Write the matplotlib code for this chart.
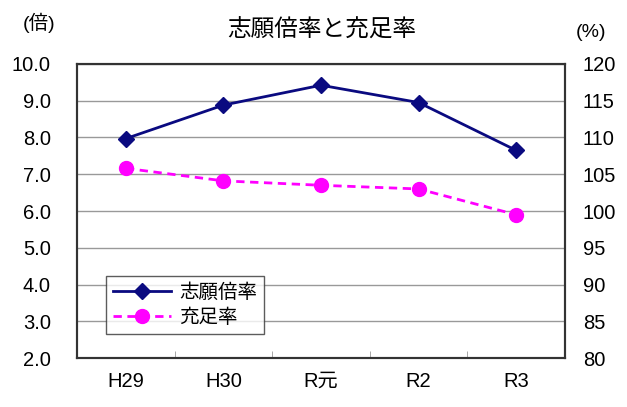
import numpy as np
import matplotlib.pyplot as plt

plt.rcParams['font.family'] = ['Liberation Sans', 'Noto Sans CJK JP']

years = ['H29', 'H30', 'R元', 'R2', 'R3']
shigan = [7.97, 8.88, 9.42, 8.95, 7.65]      # 志願倍率 (倍)
juusoku = [105.8, 104.1, 103.5, 103.0, 99.5]  # 充足率 (%)

fig = plt.figure(figsize=(6.27, 4.07), dpi=100)
ax = fig.add_axes([0.123, 0.12, 0.778, 0.723])
ax2 = ax.twinx()

x = np.arange(len(years))
l1, = ax.plot(x, shigan, color='#0a0a80', lw=2, marker='D', ms=8, label='志願倍率', zorder=3)
l2, = ax2.plot(x, juusoku, color='#ff00ff', lw=2, ls=(0, (3, 2)), marker='o', ms=10,
               markeredgecolor='#ff00ff', label='充足率', zorder=3)

ax.set_xlim(-0.5, len(years) - 0.5)
ax.set_ylim(2, 10)
ax.set_yticks(np.arange(2, 10.1, 1))
ax.set_yticklabels([f'{v:.1f}' for v in np.arange(2, 10.1, 1)])
ax2.set_ylim(80, 120)
ax2.set_yticks(np.arange(80, 121, 5))

ax.set_xticks(x)
ax.set_xticklabels(years)
ax.set_xticks(np.arange(0.5, len(years) - 1, 1), minor=True)
ax.tick_params(axis='x', which='major', length=0, pad=10, labelsize=14.5)
ax.tick_params(axis='x', which='minor', direction='in', length=5, color='#999999')
ax.tick_params(axis='y', length=0, pad=19, labelsize=14.5)
ax2.tick_params(axis='y', length=0, pad=13, labelsize=14.5)

ax.grid(axis='y', color='#999999', lw=1)
for a in (ax, ax2):
    for s in a.spines.values():
        s.set_color('#333333')
        s.set_linewidth(1.5)

fig.text(0.513, 0.925, '志願倍率と充足率', ha='center', va='center', fontsize=17)
fig.text(0.063, 0.945, '(倍)', ha='center', va='center', fontsize=14)
fig.text(0.943, 0.92, '(%)', ha='center', va='center', fontsize=14)

leg = ax.legend(handles=[l1, l2], loc='lower left', bbox_to_anchor=(0.04, 0.05),
                fontsize=14, frameon=True, fancybox=False, edgecolor='#333333',
                handlelength=3.0, handletextpad=0.4, borderpad=0.35, labelspacing=0.35)
leg.get_frame().set_linewidth(1)

fig.savefig('out.png', dpi=100)
